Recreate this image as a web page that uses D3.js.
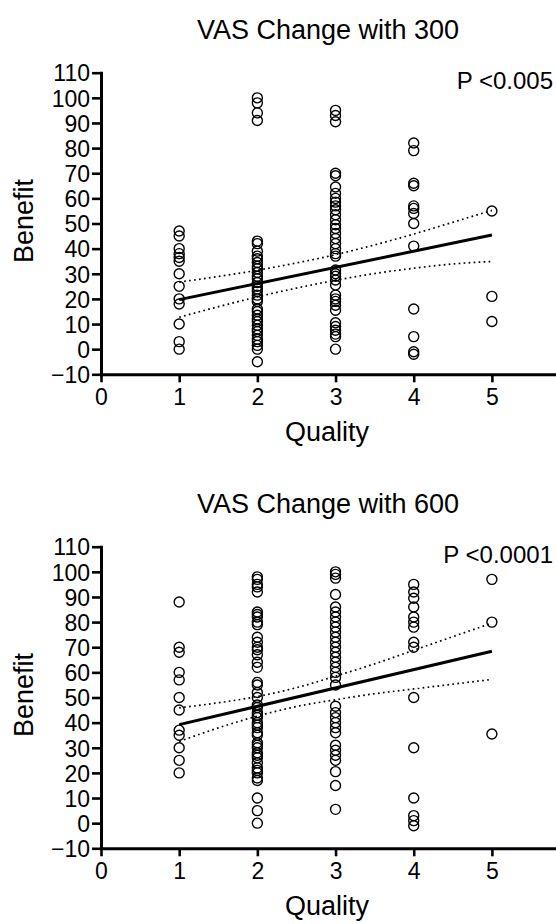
<!DOCTYPE html>
<html>
<head>
<meta charset="utf-8">
<script src="https://cdn.jsdelivr.net/npm/d3@7/dist/d3.min.js"></script>
<style>
  body { margin: 0; background: #fff; }
  svg { display: block; }
  text { font-family: "Liberation Sans", Arial, sans-serif; fill: #000; }
</style>
</head>
<body>
<div id="stage_id"></div>
<script>
// tick labels
var qualityTicks = [0, 1, 2, 3, 4, 5];
var benefitTicks = [-10, 0, 10, 20, 30, 40, 50, 60, 70, 80, 90, 100, 110];

// VAS change with 300, benefit values per quality level 1..5
var vas300Q1 = [47, 45, 40, 38, 36.5, 35, 30, 25, 20, 18, 10, 3, 0];
var vas300Q2 = [100, 98, 94, 91, 43, 42, 39, 37, 36, 34.5, 33, 32, 30.5, 29, 28, 26.5, 25, 24, 23, 21.5, 20,
                19, 16, 15, 13.5, 12, 11, 9.5, 8, 7, 5.5, 4, 3, 1.5, 0, -5];
var vas300Q3 = [95, 93, 90.5, 70, 69, 64.5, 62, 60, 58.5, 57, 55.5, 53.5, 51.5, 49.5, 48, 46, 44, 42, 40, 38, 37,
                31.5, 30, 29, 27.5, 25.5, 21.5, 20, 19, 17.5, 15.5, 10.5, 9, 7.5, 6, 5, 0];
var vas300Q4 = [82, 79, 66, 65, 57, 56, 54, 50, 41, 16, 5, -1, -2];
var vas300Q5 = [55, 21, 11];

// VAS change with 600
var vas600Q1 = [88, 70, 68, 60, 57, 50, 45, 37, 35, 30, 25, 20];
var vas600Q2 = [98, 97, 95, 94, 92, 84, 83, 82, 80, 79, 74, 72, 70, 69, 67, 64, 62, 56, 55, 52, 50, 47, 46, 44,
                43, 42, 40, 39, 38, 36, 35, 32, 31, 30, 28, 27, 26, 24, 22, 21, 20, 18, 17, 10, 5, 0];
var vas600Q3 = [100, 99, 97.5, 91, 86, 84, 82, 80, 78, 76, 74, 72, 70, 68, 66, 64, 62, 60, 58, 55, 46.5, 44, 42,
                40, 38, 36, 31, 29, 27, 25, 20.5, 15, 5.5];
var vas600Q4 = [95, 92, 89.5, 86, 82, 80, 78, 72, 70, 50, 30, 10, 3, 1, -1];
var vas600Q5 = [97, 80, 35.5];

// fitted line and 95% band, read at these quality values
var fitX = [1, 5];
var fit300 = [19.7, 45.4];
var fit600 = [39.2, 68.4];
var bandX = [1, 1.5, 2, 2.5, 3, 3.5, 4, 4.5, 5];
var upper300 = [26.7, 28.9, 31.4, 34.3, 37.6, 41.5, 45.8, 50.5, 55.2];
var lower300 = [12.7, 16.9, 20.8, 24.3, 27.4, 30.1, 32.2, 33.9, 34.9];
var upper600 = [45.9, 47.9, 50.4, 53.9, 58.5, 63.4, 68.8, 74.2, 79.6];
var lower600 = [32.5, 37.9, 42.6, 46.4, 49.1, 51.5, 53.4, 55.3, 57.2];

var panels = [
  {title: "VAS Change with 300", p: "P <0.005", cols: [vas300Q1, vas300Q2, vas300Q3, vas300Q4, vas300Q5],
   fit: fit300, upper: upper300, lower: lower300, top: 0},
  {title: "VAS Change with 600", p: "P <0.0001", cols: [vas600Q1, vas600Q2, vas600Q3, vas600Q4, vas600Q5],
   fit: fit600, upper: upper600, lower: lower600, top: 474}
];

var W = 556, H = 924;
var svg = d3.select("#stage_id").append("svg")
  .attr("width", W).attr("height", H);

var xScale = d3.scaleLinear().domain([0, 5.82]).range([101, 556]);

panels.forEach(function(pan){

  var g = svg.append("g").attr("transform", "translate(0," + pan.top + ")");

  var yScale = d3.scaleLinear().domain([-10, 110]).range([374.3, 72.7]);

  // titles and labels
  g.append("text").attr("x", 328).attr("y", 39).attr("text-anchor", "middle")
    .style("font-size", "27px").text(pan.title);
  g.append("text").attr("x", 553).attr("y", 89).attr("text-anchor", "end")
    .style("font-size", "24px").text(pan.p);
  g.append("text").attr("x", 327).attr("y", 441).attr("text-anchor", "middle")
    .style("font-size", "27px").text("Quality");
  g.append("text").attr("transform", "translate(33,221) rotate(-90)").attr("text-anchor", "middle")
    .style("font-size", "27px").text("Benefit");

  // axes
  var xAxis = d3.axisBottom(xScale).tickValues(qualityTicks).tickFormat(d3.format("d"))
    .tickSize(8).tickSizeOuter(0).tickPadding(6);
  var yAxis = d3.axisLeft(yScale).tickValues(benefitTicks).tickFormat(d3.format("d"))
    .tickSize(9).tickSizeOuter(0).tickPadding(2);

  var gX = g.append("g").attr("transform", "translate(0," + yScale(-10) + ")").call(xAxis);
  var gY = g.append("g").attr("transform", "translate(" + xScale(0) + ",0)").call(yAxis);

  [gX, gY].forEach(function(ax){
    ax.attr("font-family", null).attr("font-size", null);
    ax.select(".domain").attr("stroke", "#000").attr("stroke-width", 3).attr("stroke-linecap", "square");
    ax.selectAll(".tick line").attr("stroke", "#000").attr("stroke-width", 2.6);
    ax.selectAll(".tick text").style("font-size", "23px").attr("fill", "#000");
  });
  gY.selectAll(".tick text").attr("dy", "0.36em");

  // points
  pan.cols.forEach(function(vals, i){
    g.selectAll(".pt" + i)
      .data(vals)
      .enter()
      .append("circle")
      .attr("cx", xScale(i + 1))
      .attr("cy", function(d){ return yScale(d); })
      .attr("r", 5)
      .attr("fill", "none")
      .attr("stroke", "#000")
      .attr("stroke-width", 1.4);
  });

  // confidence band
  var band = d3.line().curve(d3.curveMonotoneX)
    .x(function(d){ return xScale(d[0]); })
    .y(function(d){ return yScale(d[1]); });

  [pan.upper, pan.lower].forEach(function(arr){
    g.append("path")
      .attr("d", band(d3.zip(bandX, arr)))
      .attr("fill", "none")
      .attr("stroke", "#000")
      .attr("stroke-width", 1.7)
      .attr("stroke-dasharray", "1.7 3.3");
  });

  // regression line
  g.append("path")
    .attr("d", band.curve(d3.curveLinear)(d3.zip(fitX, pan.fit)))
    .attr("fill", "none")
    .attr("stroke", "#000")
    .attr("stroke-width", 3);
});
</script>
</body>
</html>
